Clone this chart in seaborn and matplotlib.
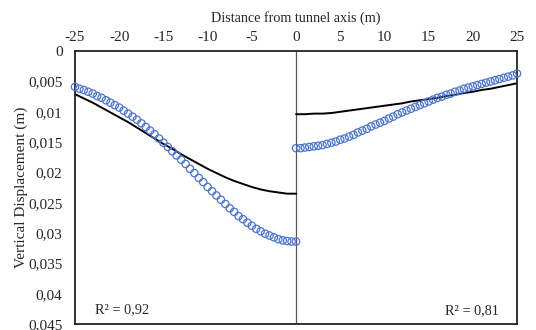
import numpy as np
import pandas as pd
import matplotlib
matplotlib.use("Agg")
import matplotlib.pyplot as plt
import seaborn as sns

# Measured settlement (open circles), 0.5 m spacing
x_left = [-25 + 0.5 * k for k in range(51)]
meas_left = [0.0059, 0.0062, 0.0064, 0.0067, 0.0070, 0.0074, 0.0077, 0.0081, 0.0085, 0.0089,
             0.0093, 0.0098, 0.0103, 0.0108, 0.0113, 0.0119, 0.0125, 0.0131, 0.0137, 0.0144,
             0.0151, 0.0158, 0.0165, 0.0172, 0.0179, 0.0186, 0.0194, 0.0201, 0.0209, 0.0216,
             0.0224, 0.0231, 0.0238, 0.0245, 0.0252, 0.0259, 0.0265, 0.0272, 0.0277, 0.0283,
             0.0288, 0.0293, 0.0297, 0.0301, 0.0304, 0.0307, 0.0310, 0.0312, 0.0313, 0.0314,
             0.0314]
x_right = [0.5 * k for k in range(51)]
meas_right = [0.0160, 0.0160, 0.0159, 0.0158, 0.0157, 0.0156, 0.0155, 0.0153, 0.0151, 0.0149,
              0.0146, 0.0144, 0.0141, 0.0138, 0.0134, 0.0131, 0.0128, 0.0124, 0.0121, 0.0118,
              0.0115, 0.0111, 0.0108, 0.0104, 0.0101, 0.0098, 0.0095, 0.0092, 0.0089, 0.0086,
              0.0083, 0.0080, 0.0077, 0.0075, 0.0072, 0.0070, 0.0067, 0.0065, 0.0062, 0.0060,
              0.0058, 0.0056, 0.0054, 0.0052, 0.0050, 0.0048, 0.0046, 0.0044, 0.0042, 0.0040,
              0.0037]

# Predicted settlement trough (solid lines), 1 m spacing
xp_left = list(range(-25, 1))
pred_left = [0.0071, 0.0078, 0.0085, 0.0093, 0.0101, 0.0109, 0.0117, 0.0126, 0.0135, 0.0144,
             0.0153, 0.0161, 0.0170, 0.0178, 0.0186, 0.0194, 0.0201, 0.0208, 0.0214, 0.0219,
             0.0224, 0.0228, 0.0231, 0.0233, 0.0235, 0.0235]
xp_right = list(range(0, 26))
pred_right = [0.0104, 0.0104, 0.0103, 0.0103, 0.0102, 0.0100, 0.0098, 0.0096, 0.0094, 0.0092,
              0.0090, 0.0088, 0.0086, 0.0083, 0.0081, 0.0079, 0.0077, 0.0074, 0.0072, 0.0069,
              0.0067, 0.0064, 0.0062, 0.0059, 0.0056, 0.0053]

x_ticks = [-25, -20, -15, -10, -5, 0, 5, 10, 15, 20, 25]
y_ticks = [0, 0.005, 0.01, 0.015, 0.02, 0.025, 0.03, 0.035, 0.04, 0.045]
y_tick_labels = ["0", "0,005", "0,01", "0,015", "0,02", "0,025", "0,03", "0,035", "0,04", "0,045"]
r2_left = "R² = 0,92"
r2_right = "R² = 0,81"

sns.set_style("white")
plt.rcParams["font.family"] = ["Liberation Serif", "DejaVu Serif"]
plt.rcParams["font.size"] = 10.5

meas = pd.concat([
    pd.DataFrame({"x": x_left, "s": meas_left, "side": "left"}),
    pd.DataFrame({"x": x_right, "s": meas_right, "side": "right"}),
])
pred = pd.concat([
    pd.DataFrame({"x": xp_left, "s": pred_left, "side": "left"}),
    pd.DataFrame({"x": xp_right, "s": pred_right, "side": "right"}),
])

fig = plt.figure(figsize=(5.36, 3.30), dpi=100)
ax = fig.add_axes([0.140, 0.018, 0.8246, 0.827])

ax.axvline(0, color="#555555", lw=0.9, zorder=1)

sns.lineplot(data=pred, x="x", y="s", units="side", estimator=None, color="black",
             lw=1.4, sort=True, ax=ax, zorder=2)
sns.scatterplot(data=meas, x="x", y="s", marker="o", s=28, facecolor="none",
                edgecolor="#4a74d4", linewidth=0.9, ax=ax, zorder=3, clip_on=False)

ax.set_xlim(-25, 25)
ax.set_ylim(0.045, 0)
ax.set_xticks(x_ticks)
ax.set_xticklabels([str(v) for v in x_ticks])
ax.set_yticks(y_ticks)
ax.set_yticklabels(y_tick_labels)
ax.xaxis.tick_top()
ax.xaxis.set_label_position("top")
ax.tick_params(axis="x", length=0, labelsize=11, pad=5.5)
ax.tick_params(axis="y", length=0, labelsize=11, pad=9)
ax.set_xlabel("Distance from tunnel axis (m)", fontsize=10.2, labelpad=6)
ax.set_ylabel("Vertical Displacement (m)", fontsize=11, labelpad=0)

for sp in ax.spines.values():
    sp.set_color("#222222")
    sp.set_linewidth(1.3)

ax.text(-22.7, 0.0427, r2_left, fontsize=10.3, va="center", ha="left")
ax.text(23.0, 0.0428, r2_right, fontsize=10.3, va="center", ha="right")

fig.savefig("out.png", dpi=100)
